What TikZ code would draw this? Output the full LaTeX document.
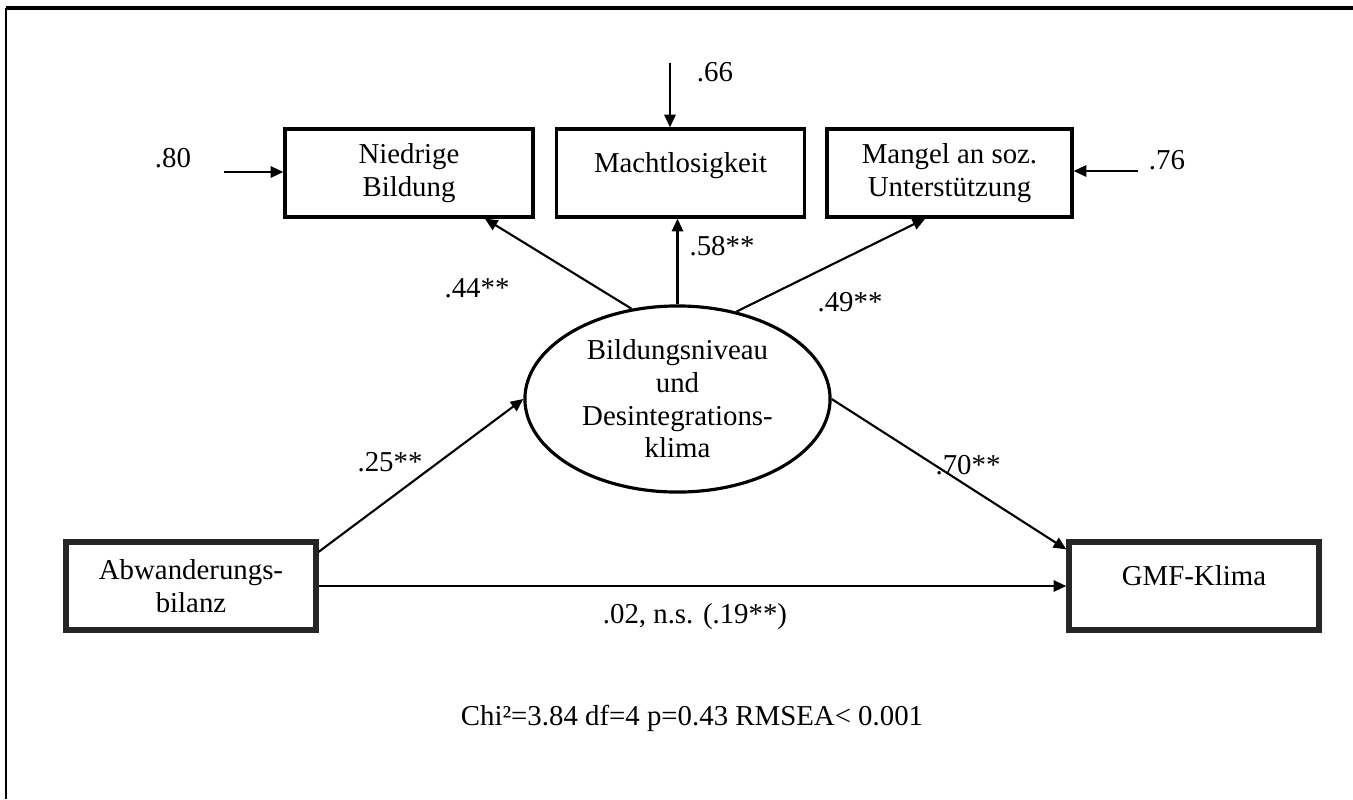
\documentclass[tikz,border=0pt]{standalone}
\usepackage{fontspec}
\setmainfont{Liberation Serif}
\usetikzlibrary{shapes,arrows.meta,positioning}
\newcommand{\pathfont}{\fontsize{8.2}{9.3}\selectfont}

\begin{document}
\begin{tikzpicture}[x=0.01cm, y=-0.01cm,
            box/.style={rectangle, draw, line width=0.9pt, minimum width=2.48cm, minimum height=0.88cm, inner sep=0pt, align=center, font=\pathfont},
            oneline/.style={text depth=6pt},
            heavy/.style={draw=black!85, line width=1.5pt, minimum width=2.5cm},
            latent/.style={ellipse, draw, line width=0.9pt, minimum width=3.05cm, minimum height=1.86cm, inner sep=0pt, align=center, font=\pathfont},
            coef/.style={font=\pathfont, inner sep=1pt},
            arrow/.style={-{Triangle[length=3.6pt,width=3.2pt]}, line width=0.6pt}
        ]
            \useasboundingbox (0,0) rectangle (1353,799);
            \draw[line width=1.2pt] (1353,8) -- (6,8);
            \draw[line width=0.8pt] (6,8) -- (6,799);

            \node[box] (nb) at (409,173) {Niedrige\\Bildung};
            \node[box, oneline] (ml) at (680.5,173) {Machtlosigkeit};
            \node[box, minimum width=2.45cm] (ms) at (949.5,173) {Mangel an soz.\\Unterstützung};
            \node[latent] (bd) at (677.5,399) {Bildungsniveau\\und\\Desintegrations-\\klima};
            \node[box, heavy] (ab) at (191,586) {Abwanderungs-\\bilanz};
            \node[box, heavy, oneline] (gmf) at (1194,586) {GMF-Klima};

            % Residuals
            \coordinate (e80) at (224,172);
            \coordinate (e66) at (670,63);
            \coordinate (e76) at (1138,171);
            \draw[arrow] (e80) -- (e80 -| nb.west);
            \draw[arrow] (e66) -- (e66 |- ml.north);
            \draw[arrow] (e76) -- (e76 -| ms.east);
            \node[coef] (r80) at (173,158) {.80};
            \node[coef] (r66) at (715,72) {.66};
            \node[coef] (r76) at (1167,160) {.76};

            % Paths
            \draw[arrow] (bd.117.6) -- (nb.-31.8);
            \draw[arrow] (bd.north) -- (bd.north |- ml.south);
            \draw[arrow] (bd.56.2) -- (ms.-118.1);
            \draw[arrow] (ab.15) -- (bd.west);
            \draw[arrow] (bd.east) -- (gmf.164);
            \draw[arrow] (ab.east) -- (ab.east -| gmf.west);

            \node[coef] (c44) at (477,288) {.44**};
            \node[coef] (c58) at (722,246) {.58**};
            \node[coef] (c49) at (850,302) {.49**};
            \node[coef] (c25) at (390,462) {.25**};
            \node[coef] (c70) at (968,465) {.70**};
            \node[coef] (c02) at (695,617) {.02, n.s. (.19**)};

            % Fit
            \node[coef] (fit) at (692,718) {Chi²=3.84 df=4 p=0.43 RMSEA< 0.001};
        \end{tikzpicture}
\end{document}
